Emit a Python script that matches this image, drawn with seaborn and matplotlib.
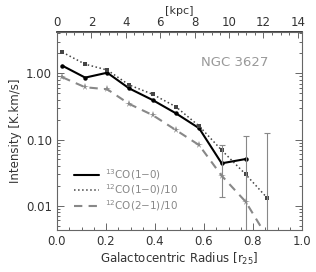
import matplotlib
matplotlib.use('Agg')
import matplotlib.pyplot as plt
import seaborn as sns
import numpy as np
from matplotlib.lines import Line2D
from matplotlib.ticker import MultipleLocator, NullFormatter

# radius in units of r25
radius = [0.022, 0.115, 0.205, 0.295, 0.390, 0.485, 0.580, 0.672, 0.770, 0.857]
co13_10 = [1.30, 0.86, 1.02, 0.59, 0.395, 0.249, 0.148, 0.0437, 0.0507]
co12_10 = [2.08, 1.37, 1.12, 0.666, 0.482, 0.313, 0.160, 0.069, 0.0298, 0.0132]
co12_21 = [0.87, 0.615, 0.573, 0.344, 0.234, 0.139, 0.0823, 0.0284, 0.0115, 0.0034]

# error bars (x, value, lower end, upper end)
err_x = [0.672, 0.770, 0.857]
err_val = [0.0437, 0.0507, 0.0132]
err_low = [0.0135, 0.0005, 0.0005]
err_high = [0.0826, 0.114, 0.124]

kpc_per_r25 = 14.25

sns.set_theme(style='ticks')
plt.rcParams['font.family'] = ['DejaVu Sans']
plt.rcParams['xtick.direction'] = 'in'
plt.rcParams['ytick.direction'] = 'in'

fig = plt.figure(figsize=(3.16, 2.72), dpi=100)
ax = fig.add_axes([57 / 316, 1 - 230 / 272, 245 / 316, 198 / 272])

frame = '#666666'
txt = '#333333'

sns.lineplot(x=radius[:len(co13_10)], y=co13_10, ax=ax, color='black', lw=1.5,
             marker='o', markersize=3.2, markeredgewidth=0)
sns.lineplot(x=radius, y=co12_10, ax=ax, color='#444444', lw=1.1, linestyle=':',
             marker='s', markersize=3.4, markeredgewidth=0)
sns.lineplot(x=radius, y=co12_21, ax=ax, color='#888888', lw=1.5, linestyle=(0, (4, 3)),
             marker='*', markersize=5.5, markeredgewidth=0)

ev = np.array(err_val)
ax.errorbar(err_x, err_val, yerr=[ev - np.array(err_low), np.array(err_high) - ev],
            fmt='none', ecolor='#888888', elinewidth=0.8, capsize=2, capthick=0.8)

ax.set_yscale('log')
ax.set_xlim(0, 1.0)
ax.set_ylim(0.0043, 4.2)
ax.set_yticks([0.01, 0.1, 1.0])
ax.set_yticklabels(['0.01', '0.10', '1.00'])
ax.yaxis.set_minor_formatter(NullFormatter())
ax.xaxis.set_minor_locator(MultipleLocator(0.05))
ax.set_xticks([0.0, 0.2, 0.4, 0.6, 0.8, 1.0])
ax.set_xticklabels(['0.0', '0.2', '0.4', '0.6', '0.8', '1.0'])
ax.tick_params(which='both', top=False, right=True, colors=frame, labelcolor=txt,
               labelsize=8.5, width=0.7)
ax.tick_params(which='major', length=5)
ax.tick_params(which='minor', length=2.5)
for s in ax.spines.values():
    s.set_color(frame)
    s.set_linewidth(0.8)

top = ax.secondary_xaxis('top', functions=(lambda x: x * kpc_per_r25, lambda k: k / kpc_per_r25))
top.set_xticks([0, 2, 4, 6, 8, 10, 12, 14])
top.xaxis.set_minor_locator(MultipleLocator(0.5))
top.tick_params(which='both', direction='in', colors=frame, labelcolor=txt, labelsize=8.5,
                width=0.7, pad=2)
top.tick_params(which='major', length=4)
top.tick_params(which='minor', length=2)
top.set_xlabel('[kpc]', fontsize=8, color=txt, labelpad=1.5)

ax.set_xlabel(r'Galactocentric Radius [r$_{25}$]', fontsize=8.5, color=txt, labelpad=2)
ax.set_ylabel('Intensity [K.km/s]', fontsize=8.5, color=txt, labelpad=3)

ax.text(0.727, 0.848, 'NGC 3627', transform=ax.transAxes, ha='center', va='center',
        fontsize=9.5, color='#999999')

handles = [
    Line2D([], [], color='black', lw=1.5),
    Line2D([], [], color='#444444', lw=1.1, linestyle=':'),
    Line2D([], [], color='#888888', lw=1.5, linestyle=(0, (4, 3))),
]
labels = [r'$^{13}$CO(1$-$0)', r'$^{12}$CO(1$-$0)/10', r'$^{12}$CO(2$-$1)/10']
leg = ax.legend(handles, labels, loc='lower left', bbox_to_anchor=(0.04, 0.05),
                frameon=False, fontsize=7.5, handlelength=2.4, labelspacing=0.05,
                handletextpad=0.6, borderpad=0.2)
for t in leg.get_texts():
    t.set_color('#888888')

fig.savefig('out.png', dpi=100)
